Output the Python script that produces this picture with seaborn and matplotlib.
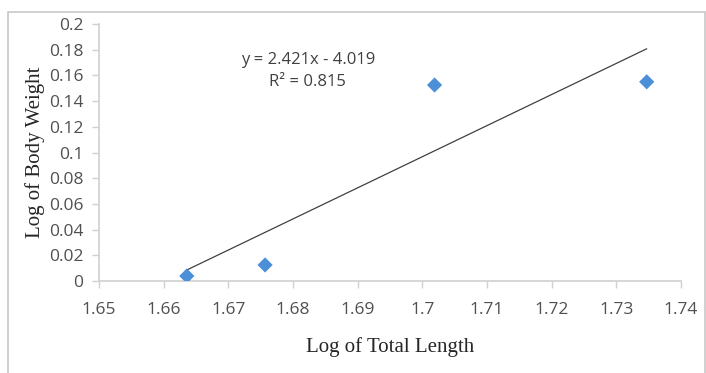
import numpy as np
import pandas as pd
import seaborn as sns
import matplotlib.pyplot as plt
from matplotlib.patches import Rectangle

# values
log_length = [1.6636, 1.6757, 1.7019, 1.7347]
log_weight = [0.0039, 0.0125, 0.1525, 0.1550]
slope, intercept = 2.421, -4.019
r_squared = 0.815

x_ticks = [1.65, 1.66, 1.67, 1.68, 1.69, 1.70, 1.71, 1.72, 1.73, 1.74]
x_tick_labels = ['1.65', '1.66', '1.67', '1.68', '1.69', '1.7', '1.71', '1.72', '1.73', '1.74']
y_ticks = [0, 0.02, 0.04, 0.06, 0.08, 0.1, 0.12, 0.14, 0.16, 0.18, 0.2]
y_tick_labels = ['0', '0.02', '0.04', '0.06', '0.08', '0.1', '0.12', '0.14', '0.16', '0.18', '0.2']

df = pd.DataFrame({'length': log_length, 'weight': log_weight})
fit = pd.DataFrame({'length': [min(log_length), max(log_length)]})
fit['weight'] = slope * fit['length'] + intercept

sns.set_style('white')
fig = plt.figure(figsize=(7.06, 3.73), dpi=100)
ax = fig.add_axes([0.140, 0.2466, 0.8246, 0.6891])

# outer chart frame
fig.patches.append(Rectangle((8 / 706, -0.01), 697 / 706, 1 - 12 / 373 + 0.01,
                             transform=fig.transFigure, fill=False,
                             edgecolor='#c8c8c8', linewidth=1.2))

sns.lineplot(data=fit, x='length', y='weight', ax=ax, color='#404040', linewidth=0.9)
sns.scatterplot(data=df, x='length', y='weight', ax=ax, marker='D', s=60,
                color='#4a8fd8', edgecolor='none', zorder=3)

ax.set_xlim(1.65, 1.74)
ax.set_ylim(0, 0.2)
ax.set_xticks(x_ticks)
ax.set_xticklabels(x_tick_labels)
ax.set_yticks(y_ticks)
ax.set_yticklabels(y_tick_labels)

for lab in ax.get_xticklabels() + ax.get_yticklabels():
    lab.set_fontfamily('Open Sans')
    lab.set_fontsize(12.5)
    lab.set_color('#505050')

ax.tick_params(axis='both', length=5, width=1, color='#d0d0d0', direction='out',
               bottom=True, left=True)
ax.tick_params(axis='x', pad=10)
ax.tick_params(axis='y', pad=6)
for side in ['top', 'right']:
    ax.spines[side].set_visible(False)
for side in ['left', 'bottom']:
    ax.spines[side].set_color('#d0d0d0')
    ax.spines[side].set_linewidth(1.2)

ax.set_xlabel('Log of Total Length', fontfamily='Liberation Serif', fontsize=15,
              color='#262626', labelpad=14)
ax.set_ylabel('Log of Body Weight', fontfamily='Liberation Serif', fontsize=15,
              color='#262626', labelpad=3)

ax.text(1.6823, 0.172, f'y = {slope}x - {abs(intercept)}', ha='center', va='center',
        fontfamily='Open Sans', fontsize=12, color='#404040')
ax.text(1.6823, 0.155, f'R² = {r_squared}', ha='center', va='center',
        fontfamily='Open Sans', fontsize=12, color='#404040')

plt.savefig('out.png', dpi=100)
